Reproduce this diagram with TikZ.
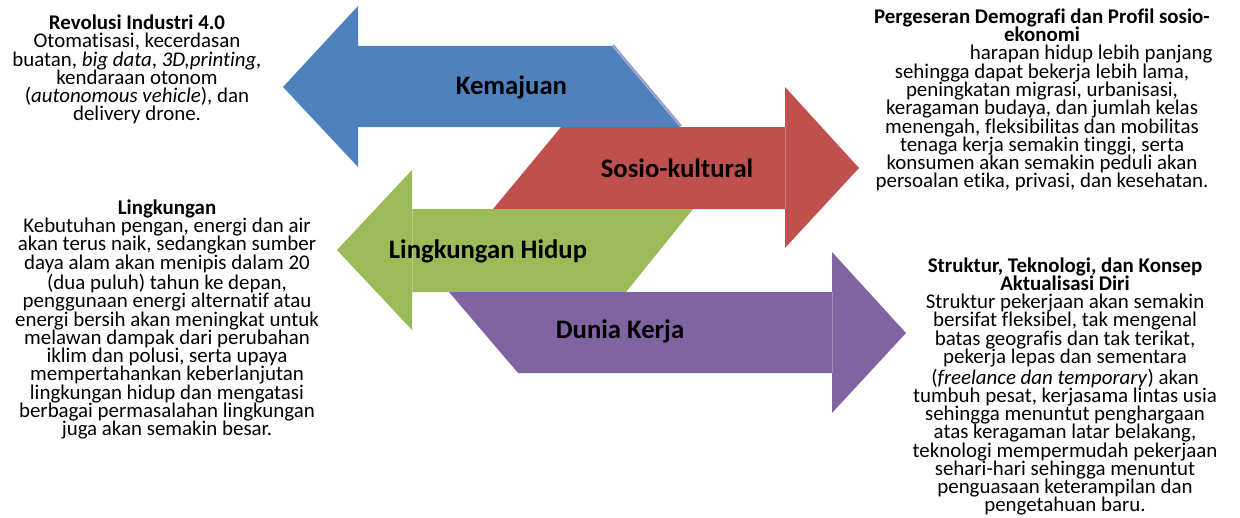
\documentclass[tikz,border=0pt]{standalone}
\usepackage{fontspec}
\setmainfont{Carlito}[Ligatures=NoCommon]
\usepackage{xcolor}
\usepackage{tikz}

\definecolor{biru}{HTML}{4F81BD}
\definecolor{merah}{HTML}{C0504D}
\definecolor{hijau}{HTML}{9BBB59}
\definecolor{ungu}{HTML}{8064A2}
\definecolor{bayang}{HTML}{A09CC8}

\begin{document}
\begin{tikzpicture}[x=0.02cm,y=-0.02cm,
  arrowlabel/.style={font=\fontsize{15.2}{18}\selectfont\bfseries},
  infotext/.style={align=center,inner sep=0pt,font=\fontsize{11.9}{10.4}\selectfont},
  seam/.style={line width=0.5pt}]
\useasboundingbox (0,0) rectangle (1240,517);

% Kemajuan (to the left)
\draw[bayang,line width=1.2pt] (613,45) -- (681,126);
\fill[biru] (283,87) -- (358,6) -- (358,46) -- (612,46) -- (680,127) -- (358,127) -- (358,167) -- cycle;
% Sosio-kultural (to the right)
\fill[merah] (859,168) -- (785,87) -- (785,127) -- (561,127) -- (493,209) -- (785,209) -- (785,248) -- cycle;
\draw[seam,merah!75!white] (785,127) -- (785,209);
% Lingkungan Hidup (to the left)
\fill[hijau] (337,250) -- (412,170) -- (412,209) -- (693,209) -- (626,292) -- (412,292) -- (412,330) -- cycle;
\draw[seam,hijau!75!white] (412,209) -- (412,292);
% Dunia Kerja (to the right)
\fill[ungu] (906,333) -- (832,252) -- (832,292) -- (449,292) -- (518,373) -- (832,373) -- (832,413) -- cycle;
\draw[seam,ungu!75!white] (832,292) -- (832,373);

\node[arrowlabel] (kemajuan) at (511.5,87) {Kemajuan};
\node[arrowlabel] (sosio) at (677,168) {Sosio-kultural};
\node[arrowlabel] (lingkungan) at (488,251) {Lingkungan Hidup};
\node[arrowlabel] (kerja) at (620,331) {Dunia Kerja};

% keterangan
\node[infotext] (revolusi) at (137,69.5) {\textbf{Revolusi Industri 4.0}\\
  Otomatisasi, kecerdasan\\
  buatan, \textit{big data}, \textit{3D,printing,}\\
  kendaraan otonom\\
  (\textit{autonomous vehicle}), dan\\
  delivery drone.};
\node[infotext] (demografi) at (1042,100) {\textbf{Pergeseran Demografi dan Profil sosio-}\\
  \textbf{ekonomi}\\
  \hspace*{56pt}harapan hidup lebih panjang\\
  sehingga dapat bekerja lebih lama,\\
  peningkatan migrasi, urbanisasi,\\
  keragaman budaya, dan jumlah kelas\\
  menengah, fleksibilitas dan mobilitas\\
  tenaga kerja semakin tinggi, serta\\
  konsumen akan semakin peduli akan\\
  persoalan etika, privasi, dan kesehatan.};
\node[infotext] (alam) at (167,319.5) {\textbf{Lingkungan}\\
  Kebutuhan pengan, energi dan air\\
  akan terus naik, sedangkan sumber\\
  daya alam akan menipis dalam 20\\
  (dua puluh) tahun ke depan,\\
  penggunaan energi alternatif atau\\
  energi bersih akan meningkat untuk\\
  melawan dampak dari perubahan\\
  iklim dan polusi, serta upaya\\
  mempertahankan keberlanjutan\\
  lingkungan hidup dan mengatasi\\
  berbagai permasalahan lingkungan\\
  juga akan semakin besar.};
\node[infotext] (struktur) at (1065,386.5) {\textbf{Struktur, Teknologi, dan Konsep}\\
  \textbf{Aktualisasi Diri}\\
  Struktur pekerjaan akan semakin\\
  bersifat fleksibel, tak mengenal\\
  batas geografis dan tak terikat,\\
  pekerja lepas dan sementara\\
  (\textit{freelance dan temporary}) akan\\
  tumbuh pesat, kerjasama lintas usia\\
  sehingga menuntut penghargaan\\
  atas keragaman latar belakang,\\
  teknologi mempermudah pekerjaan\\
  sehari-hari sehingga menuntut\\
  penguasaan keterampilan dan\\
  pengetahuan baru.};
\end{tikzpicture}
\end{document}
